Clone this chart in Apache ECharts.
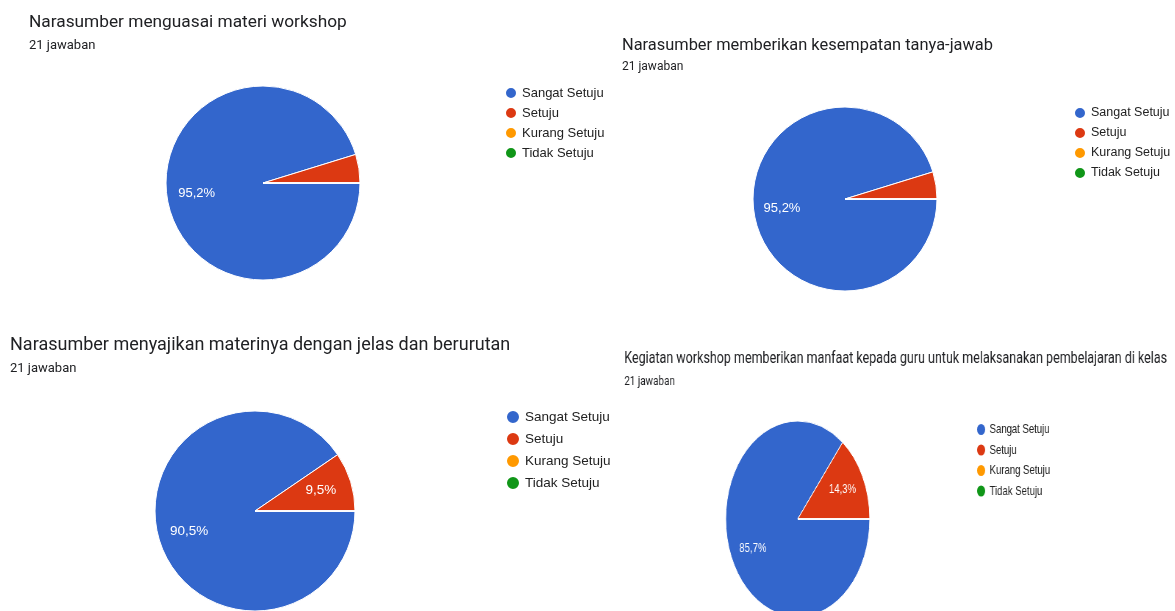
<!DOCTYPE html>
<html>
<head>
<meta charset="utf-8">
<script src="https://cdn.jsdelivr.net/npm/echarts@6/dist/echarts.min.js"></script>
<style>
html, body { margin: 0; padding: 0; background: #fff; overflow: hidden; }
#main { position: absolute; left: 0; top: 0; width: 1175px; height: 611px; }
/* the fourth form chart is squeezed sideways in the screenshot */
#chart4 { position: absolute; left: 600px; top: 330px; width: 782px; height: 290px;
          transform: scaleX(0.735); transform-origin: 0 0; }
</style>
</head>
<body>
<div id="main"></div>
<div id="chart4"></div>
<script>
var categories = ['Sangat Setuju', 'Setuju', 'Kurang Setuju', 'Tidak Setuju'];
var colors = ['#3366cc', '#dc3912', '#ff9900', '#109618'];
var subtitle = '21 jawaban';

var titleMenguasai = 'Narasumber menguasai materi workshop';
var titleTanyaJawab = 'Narasumber memberikan kesempatan tanya-jawab';
var titleJelas = 'Narasumber menyajikan materinya dengan jelas dan berurutan';
var titleManfaat = 'Kegiatan workshop memberikan manfaat kepada guru untuk melaksanakan pembelajaran di kelas';

// jumlah jawaban per kategori (total 21)
var menguasai = [20, 1, 0, 0];
var tanyaJawab = [20, 1, 0, 0];
var jelas = [19, 2, 0, 0];
var manfaat = [18, 3, 0, 0];

var font = 'Roboto';
var chartFont = '"Liberation Sans", Arial, sans-serif';

function pieData(values, named) {
    return values.map(function (v, i) {
        return named ? { name: categories[i], value: v } : { value: v };
    });
}

function pctLabel(p) {
    if (p.percent < 5) return '';
    return p.percent.toFixed(1).replace('.', ',') + '%';
}

// colored pie + a transparent ring on top only for the labels (sit at ~0.66R like google forms)
function pieSeries(values, center, r, fontSize) {
    return [
        {
            type: 'pie',
            center: center,
            radius: r,
            startAngle: 0,
            clockwise: true,
            data: pieData(values, true),
            label: { show: false },
            labelLine: { show: false },
            itemStyle: { borderColor: '#fff', borderWidth: 1 },
            emphasis: { disabled: true }
        },
        {
            type: 'pie',
            center: center,
            radius: [r * 0.32, r],
            startAngle: 0,
            clockwise: true,
            silent: true,
            percentPrecision: 1,
            avoidLabelOverlap: false,
            data: pieData(values, false),
            itemStyle: { color: 'transparent', borderWidth: 0 },
            label: {
                show: true,
                position: 'inside',
                color: '#fff',
                fontFamily: chartFont,
                fontSize: fontSize,
                formatter: pctLabel
            },
            labelLine: { show: false }
        }
    ];
}

function titleBox(text, left, top, size, subSize, gap) {
    return {
        text: text,
        subtext: subtitle,
        left: left,
        top: top,
        padding: 0,
        itemGap: gap,
        textStyle: { fontFamily: font, fontSize: size, fontWeight: 'normal', color: '#202124' },
        subtextStyle: { fontFamily: font, fontSize: subSize, color: '#202124' }
    };
}

function legendBox(left, top, size, gap, fontSize) {
    return {
        orient: 'vertical',
        left: left,
        top: top,
        padding: 0,
        icon: 'circle',
        itemWidth: size,
        itemHeight: size,
        itemGap: gap,
        selectedMode: false,
        data: categories,
        textStyle: { fontFamily: chartFont, fontSize: fontSize, color: '#222' }
    };
}

var myChart = echarts.init(document.getElementById('main'));
var option = {
    animation: false,
    color: colors,
    title: [
        titleBox(titleMenguasai, 29, 14, 17.3, 13, 8),
        titleBox(titleTanyaJawab, 622, 38, 16.4, 12, 7),
        titleBox(titleJelas, 10, 336, 18, 13, 8)
    ],
    legend: [
        legendBox(504, 86, 12, 6, 13),
        legendBox(1073, 106, 12, 6, 12.5),
        legendBox(505, 409, 14, 6, 13.5)
    ],
    series: [].concat(
        pieSeries(menguasai, [263, 183], 97, 13),
        pieSeries(tanyaJawab, [845, 199], 92, 13),
        pieSeries(jelas, [255, 511], 100, 13.5)
    )
};
myChart.setOption(option);

var chart4 = echarts.init(document.getElementById('chart4'));
chart4.setOption({
    animation: false,
    color: colors,
    title: [titleBox(titleManfaat, 33, 20, 17, 13.5, 8)],
    legend: [legendBox(511, 92, 13, 5.5, 13)],
    series: pieSeries(manfaat, [269, 189], 98, 13)
});
</script>
</body>
</html>
